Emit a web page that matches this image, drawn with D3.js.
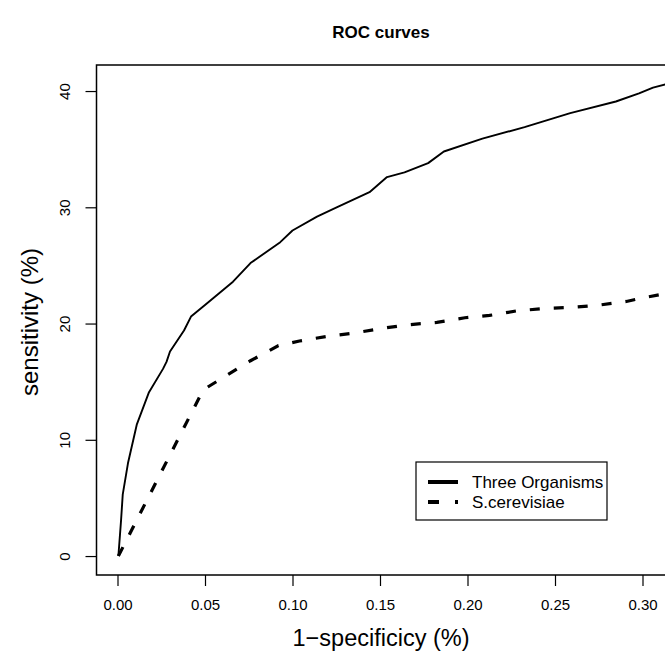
<!DOCTYPE html>
<html>
<head>
<meta charset="utf-8">
<script src="https://cdn.jsdelivr.net/npm/d3@7"></script>
<style>
  body { margin: 0; background: #fff; }
  text { font-family: "Liberation Sans", Arial, sans-serif; fill: #000; }
</style>
</head>
<body>
<div id="chart"></div>
<script>
const width = 665, height = 662;
// plot box; right edge sits just past the window like in the reference
const box = { left: 96.5, top: 65, right: 666, bottom: 575 };

// Three Organisms (solid)
const threeX = [0.0005, 0.002, 0.003, 0.006, 0.011, 0.018, 0.026, 0.028, 0.030, 0.038, 0.042, 0.050,
                0.066, 0.076, 0.093, 0.100, 0.114, 0.124, 0.144, 0.154, 0.164, 0.1775, 0.1865,
                0.2085, 0.2326, 0.2587, 0.2848, 0.298, 0.306, 0.314];
const threeY = [0, 3, 5.3, 8.0, 11.3, 14.1, 16.1, 16.7, 17.6, 19.4, 20.6, 21.6,
                23.6, 25.2, 27.0, 28.0, 29.2, 29.9, 31.3, 32.6, 33.0, 33.8, 34.8,
                35.9, 36.9, 38.1, 39.1, 39.8, 40.3, 40.6];

// S.cerevisiae (dashed)
const cereX = [0.0005, 0.049, 0.063, 0.076, 0.092, 0.104, 0.120, 0.136, 0.152, 0.1664, 0.1825,
               0.1985, 0.2126, 0.2286, 0.2447, 0.2607, 0.2758, 0.2908, 0.300, 0.314];
const cereY = [0, 14.3, 15.6, 16.8, 18.1, 18.5, 18.9, 19.2, 19.6, 19.9, 20.1,
               20.5, 20.7, 21.1, 21.3, 21.4, 21.6, 21.9, 22.2, 22.6];

const xTicks = [0, 0.05, 0.10, 0.15, 0.20, 0.25, 0.30];
const yTicks = [0, 10, 20, 30, 40];
const seriesNames = ['Three Organisms', 'S.cerevisiae'];

// 0 at 117.5px, 0.30 at 642.5px
const xScale = d3.scaleLinear().domain([0, 0.30]).range([117.5, 642.5]);
const yScale = d3.scaleLinear().domain([-1.63, 42.24]).range([box.bottom, box.top]);

const svg = d3.select('#chart').append('svg')
    .attr('width', width)
    .attr('height', height);

svg.append('defs').append('clipPath').attr('id', 'plotclip')
  .append('rect')
    .attr('x', box.left).attr('y', box.top)
    .attr('width', box.right - box.left).attr('height', box.bottom - box.top);

// axes, R style: outward ticks, no domain line
const xAxis = svg.append('g')
    .attr('transform', 'translate(0,' + box.bottom + ')')
    .call(d3.axisBottom(xScale).tickValues(xTicks).tickFormat(d3.format('.2f')).tickSize(11).tickPadding(13));
xAxis.select('.domain').remove();
xAxis.selectAll('line').attr('stroke', '#000').attr('stroke-width', 1.2);
xAxis.selectAll('text').attr('font-size', 15).attr('fill', '#222');

const yAxis = svg.append('g')
    .attr('transform', 'translate(' + box.left + ',0)')
    .call(d3.axisLeft(yScale).tickValues(yTicks).tickSize(11));
yAxis.select('.domain').remove();
yAxis.selectAll('line').attr('stroke', '#000').attr('stroke-width', 1.2);
yAxis.selectAll('text')
    .attr('font-size', 15).attr('fill', '#222')
    .attr('x', null).attr('dy', null)
    .attr('text-anchor', 'middle')
    .attr('transform', 'translate(-27,0) rotate(-90)');

// plot box
svg.append('rect')
    .attr('x', box.left).attr('y', box.top)
    .attr('width', box.right - box.left).attr('height', box.bottom - box.top)
    .attr('fill', 'none').attr('stroke', '#000').attr('stroke-width', 1.5);

const line = d3.line().x(d => xScale(d[0])).y(d => yScale(d[1]));

const plot = svg.append('g').attr('clip-path', 'url(#plotclip)');

plot.append('path')
    .datum(d3.zip(threeX, threeY))
    .attr('d', line)
    .attr('fill', 'none').attr('stroke', '#000').attr('stroke-width', 1.9)
    .attr('stroke-linejoin', 'round');

plot.append('path')
    .datum(d3.zip(cereX, cereY))
    .attr('d', line)
    .attr('fill', 'none').attr('stroke', '#000').attr('stroke-width', 3.2)
    .attr('stroke-dasharray', '10,14');

const midX = 381;

// titles
svg.append('text')
    .attr('x', midX).attr('y', 38)
    .attr('text-anchor', 'middle')
    .attr('font-size', 17).attr('font-weight', 'bold')
    .text('ROC curves');

svg.append('text')
    .attr('x', midX).attr('y', 646)
    .attr('text-anchor', 'middle')
    .attr('font-size', 23.5).attr('fill', '#222')
    .text('1\u2212specificicy (%)');

svg.append('text')
    .attr('transform', 'translate(38,' + ((box.top + box.bottom) / 2 + 2) + ') rotate(-90)')
    .attr('text-anchor', 'middle')
    .attr('font-size', 24).attr('fill', '#222')
    .text('sensitivity (%)');

// legend
const lg = svg.append('g').attr('transform', 'translate(416,462)');
lg.append('rect')
    .attr('width', 191).attr('height', 58)
    .attr('fill', '#fff').attr('stroke', '#000').attr('stroke-width', 1.2);

const legendRows = lg.selectAll('g.row')
    .data(seriesNames)
    .enter().append('g')
    .attr('class', 'row')
    .attr('transform', (d, i) => 'translate(0,' + (20 + i * 20) + ')');

legendRows.append('line')
    .attr('x1', 12).attr('x2', 42)
    .attr('stroke', '#000').attr('stroke-width', 4)
    .attr('stroke-dasharray', (d, i) => i === 0 ? null : '11,16');

legendRows.append('text')
    .attr('x', 56).attr('y', 6)
    .attr('font-size', 17).attr('fill', '#222')
    .text(d => d);
</script>
</body>
</html>
